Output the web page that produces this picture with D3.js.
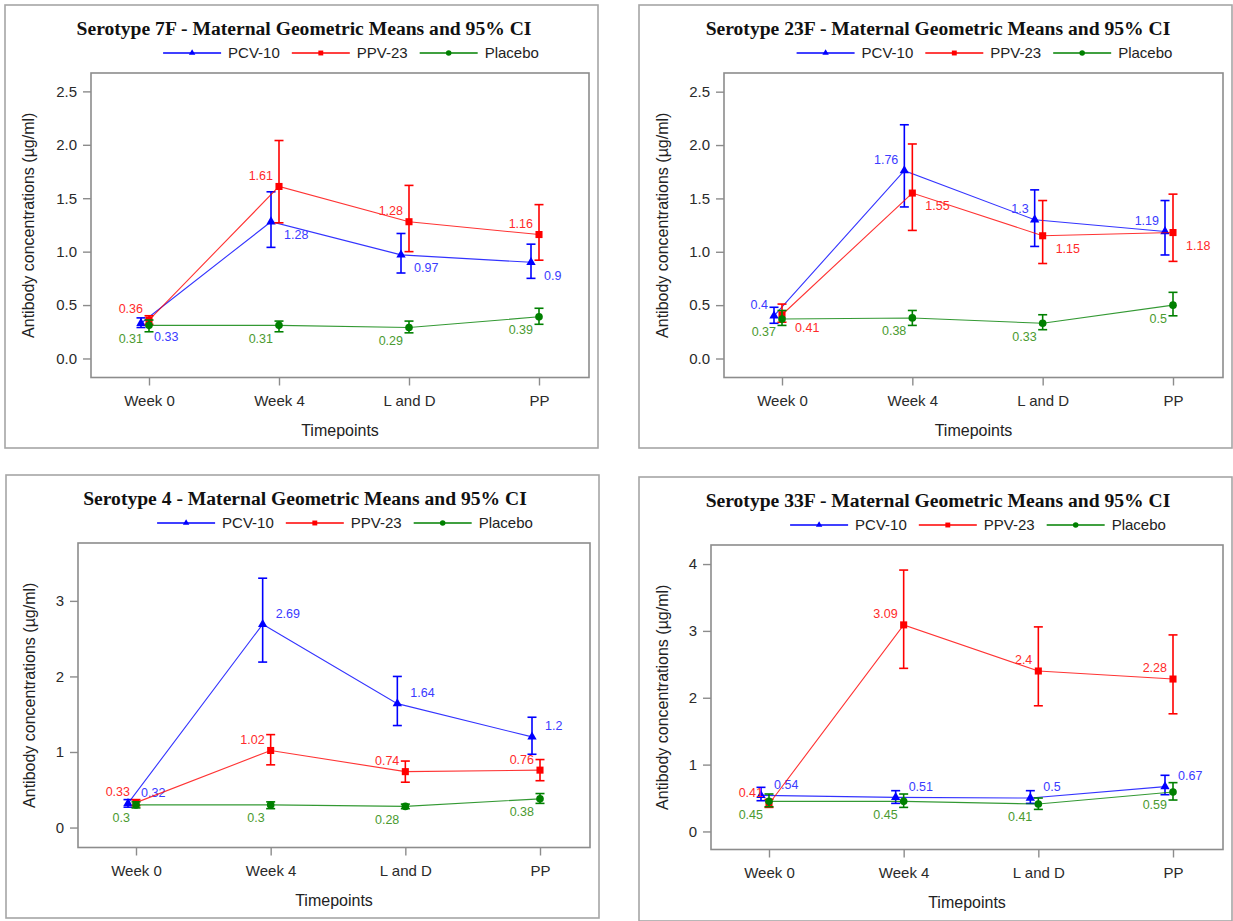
<!DOCTYPE html>
<html>
<head>
<meta charset="utf-8">
<script src="https://d3js.org/d3.v7.min.js"></script>
<style>
  body { margin: 0; background: #fff; }
  svg { display: block; }
  text { font-family: 'Liberation Sans', Arial, sans-serif; }
</style>
</head>
<body>
<script>
// categories and groups
const timepoints = ['Week 0', 'Week 4', 'L and D', 'PP'];
const groups = ['PCV-10', 'PPV-23', 'Placebo'];
const titles = [
  'Serotype 7F - Maternal Geometric Means and 95% CI',
  'Serotype 23F - Maternal Geometric Means and 95% CI',
  'Serotype 4 - Maternal Geometric Means and 95% CI',
  'Serotype 33F - Maternal Geometric Means and 95% CI'
];

// rows: PCV-10, PPV-23, Placebo ; columns: timepoints
const mean7F = [[0.33, 1.28, 0.97, 0.9], [0.36, 1.61, 1.28, 1.16], [0.31, 0.31, 0.29, 0.39]];
const lower7F = [[0.29, 1.04, 0.80, 0.75], [0.32, 1.27, 1.00, 0.92], [0.25, 0.25, 0.24, 0.32]];
const upper7F = [[0.38, 1.56, 1.17, 1.07], [0.40, 2.04, 1.62, 1.44], [0.36, 0.35, 0.35, 0.47]];

const mean23F = [[0.4, 1.76, 1.3, 1.19], [0.41, 1.55, 1.15, 1.18], [0.37, 0.38, 0.33, 0.5]];
const lower23F = [[0.33, 1.42, 1.05, 0.97], [0.34, 1.20, 0.89, 0.91], [0.31, 0.31, 0.27, 0.40]];
const upper23F = [[0.48, 2.19, 1.58, 1.48], [0.51, 2.01, 1.48, 1.54], [0.45, 0.45, 0.41, 0.62]];

const mean4 = [[0.32, 2.69, 1.64, 1.2], [0.33, 1.02, 0.74, 0.76], [0.3, 0.3, 0.28, 0.38]];
const lower4 = [[0.27, 2.19, 1.35, 0.97], [0.29, 0.83, 0.60, 0.62], [0.26, 0.25, 0.25, 0.32]];
const upper4 = [[0.37, 3.30, 2.00, 1.46], [0.37, 1.23, 0.88, 0.90], [0.34, 0.34, 0.31, 0.45]];

const mean33F = [[0.54, 0.51, 0.5, 0.67], [0.41, 3.09, 2.4, 2.28], [0.45, 0.45, 0.41, 0.59]];
const lower33F = [[0.46, 0.42, 0.42, 0.55], [0.36, 2.44, 1.88, 1.76], [0.37, 0.36, 0.33, 0.47]];
const upper33F = [[0.66, 0.61, 0.61, 0.84], [0.48, 3.91, 3.06, 2.94], [0.56, 0.56, 0.50, 0.73]];

const ticksDec = [0, 0.5, 1.0, 1.5, 2.0, 2.5];
const ticks4 = [0, 1, 2, 3];
const ticks33F = [0, 1, 2, 3, 4];

const colors = ['#0000ff', '#ff0000', '#008000'];
const labelColors = ['#3b3bff', '#ff2a2a', '#4a9a30'];
const symbols = [d3.symbolTriangle, d3.symbolSquare, d3.symbolCircle];
const symbolSize = [38, 50, 46];
const groupShift = [-8, 0, 0];

const panels = [
  { ox: 5, oy: 5, h: 443, left: 86, title: titles[0], mean: mean7F, lo: lower7F, hi: upper7F,
    yDomain: [-0.178, 2.672], ticks: ticksDec, fmt: d3.format('.1f'), pos: ['se', 'nw', 'sw'] },
  { ox: 639, oy: 5, h: 443, left: 85, title: titles[1], mean: mean23F, lo: lower23F, hi: upper23F,
    yDomain: [-0.178, 2.675], ticks: ticksDec, fmt: d3.format('.1f'), pos: ['nw', 'se', 'sw'] },
  { ox: 6, oy: 475, h: 443, left: 72, title: titles[2], mean: mean4, lo: lower4, hi: upper4,
    yDomain: [-0.264, 3.766], ticks: ticks4, fmt: d3.format('d'), pos: ['ne', 'nw', 'sw'] },
  { ox: 639, oy: 477, h: 444, left: 72, title: titles[3], mean: mean33F, lo: lower33F, hi: upper33F,
    yDomain: [-0.27, 4.285], ticks: ticks33F, fmt: d3.format('d'), pos: ['ne', 'nw', 'sw'] }
];

const svg = d3.select('body').append('svg').attr('width', 1233).attr('height', 921);

function drawPanel(p) {
  const g = svg.append('g').attr('transform', `translate(${p.ox},${p.oy})`);
  const top = 68, bottom = 372.5, right = 584;

  g.append('rect')
    .attr('x', 0).attr('y', 0).attr('width', 593).attr('height', p.h)
    .attr('fill', 'none').attr('stroke', '#a6a6a6').attr('stroke-width', 1.6);

  g.append('text')
    .attr('x', 299).attr('y', 23).attr('dy', '0.35em')
    .attr('text-anchor', 'middle')
    .style('font-family', "'Liberation Serif', 'Times New Roman', serif")
    .style('font-weight', 'bold').style('font-size', '19.6px').attr('fill', '#111')
    .text(p.title);

  // legend
  const leg = g.append('g');
  let lx = 0;
  groups.forEach((name, i) => {
    const it = leg.append('g').attr('transform', `translate(${lx},0)`);
    it.append('line').attr('x1', 0).attr('x2', 58).attr('y1', 0).attr('y2', 0)
      .attr('stroke', colors[i]).attr('stroke-width', 1.6);
    it.append('path').attr('d', d3.symbol(symbols[i], i === 0 ? 18 : 24)())
      .attr('transform', 'translate(29,0)').attr('fill', colors[i]);
    const t = it.append('text').attr('x', 65).attr('dy', '0.35em')
      .style('font-size', '15px').attr('fill', '#222').text(name);
    lx += 65 + t.node().getComputedTextLength() + 12;
  });
  const legW = lx - 12;
  leg.attr('transform', `translate(${(p.left + right) / 2 + 11 - legW / 2},48)`);

  const x = d3.scalePoint().domain(timepoints).range([p.left + 58, right - 50]);
  const y = d3.scaleLinear().domain(p.yDomain).range([bottom, top]);

  g.append('rect')
    .attr('x', p.left).attr('y', top).attr('width', right - p.left).attr('height', bottom - top)
    .attr('fill', 'none').attr('stroke', '#8c8c8c').attr('stroke-width', 1.6);

  const ya = g.append('g').attr('transform', `translate(${p.left},0)`)
    .call(d3.axisLeft(y).tickValues(p.ticks).tickFormat(p.fmt).tickSize(8).tickPadding(6));
  const xa = g.append('g').attr('transform', `translate(0,${bottom})`)
    .call(d3.axisBottom(x).tickSize(8).tickPadding(10));
  [ya, xa].forEach(a => {
    a.select('.domain').remove();
    a.selectAll('line').attr('stroke', '#8c8c8c').attr('stroke-width', 1.4);
    a.selectAll('text').style('font-size', '15px').style('font-family', "'Liberation Sans', Arial, sans-serif").attr('fill', '#2a2a2a');
  });

  g.append('text')
    .attr('transform', `translate(23,${(top + bottom) / 2}) rotate(-90)`)
    .attr('text-anchor', 'middle').attr('dy', '0.35em')
    .style('font-size', '16px').attr('fill', '#222')
    .text('Antibody concentrations (\u00b5g/ml)');

  g.append('text')
    .attr('x', (p.left + right) / 2).attr('y', bottom + 53).attr('dy', '0.35em')
    .attr('text-anchor', 'middle').style('font-size', '16px').attr('fill', '#222')
    .text('Timepoints');

  groups.forEach((name, gi) => {
    const pts = timepoints.map((t, k) => ({
      x: x(t) + groupShift[gi], v: p.mean[gi][k], lo: p.lo[gi][k], hi: p.hi[gi][k]
    }));
    const sg = g.append('g');
    sg.append('path')
      .attr('d', d3.line().x(d => d.x).y(d => y(d.v))(pts))
      .attr('fill', 'none').attr('stroke', colors[gi]).attr('stroke-width', 1.1).attr('opacity', 0.8);

    pts.forEach(d => {
      sg.append('line').attr('x1', d.x).attr('x2', d.x).attr('y1', y(d.lo)).attr('y2', y(d.hi))
        .attr('stroke', colors[gi]).attr('stroke-width', 1.6);
      [d.lo, d.hi].forEach(c => {
        sg.append('line').attr('x1', d.x - 4.5).attr('x2', d.x + 4.5).attr('y1', y(c)).attr('y2', y(c))
          .attr('stroke', colors[gi]).attr('stroke-width', 1.6);
      });
      sg.append('path').attr('d', d3.symbol(symbols[gi], symbolSize[gi])())
        .attr('transform', `translate(${d.x},${y(d.v)})`).attr('fill', colors[gi]);

      const pos = p.pos[gi];
      const east = pos[1] === 'e';
      const north = pos[0] === 'n';
      sg.append('text')
        .attr('x', d.x + (east ? 13 : -6))
        .attr('y', y(d.v) + (north ? -11 : 13))
        .attr('dy', '0.35em')
        .attr('text-anchor', east ? 'start' : 'end')
        .style('font-size', '12.5px').attr('fill', labelColors[gi])
        .text(String(d.v));
    });
  });
}

panels.forEach(drawPanel);
</script>
</body>
</html>
